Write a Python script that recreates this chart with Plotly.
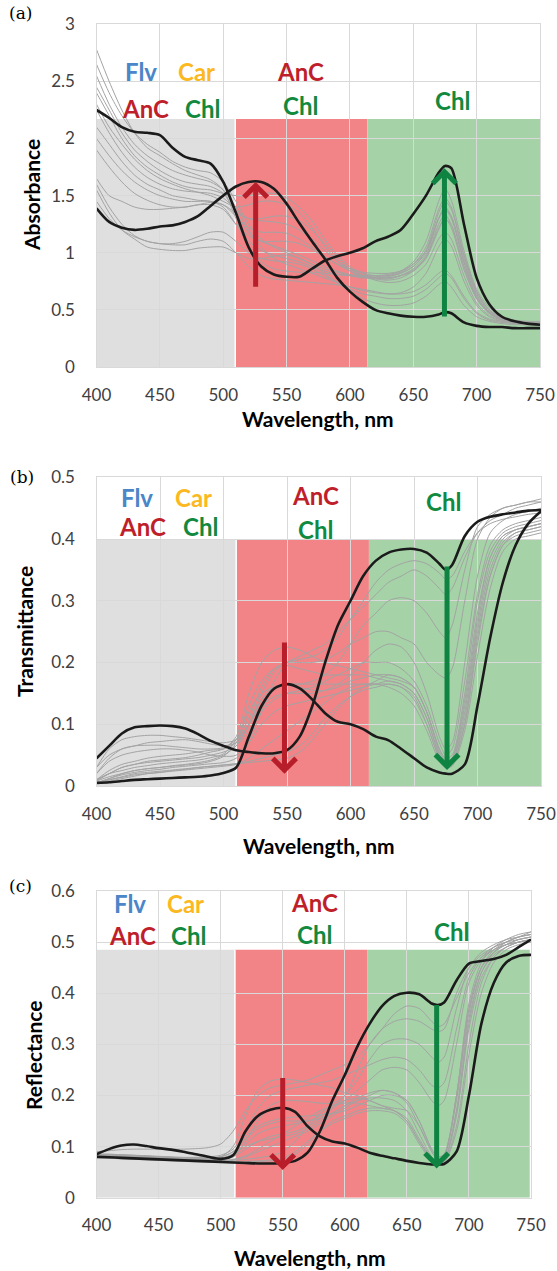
import plotly.graph_objects as go

W = [400,410,420,430,440,450,460,470,480,490,500,510,520,530,540,550,560,570,580,590,
     600,610,620,630,640,650,660,670,675,680,690,700,710,720,730,740,750]

# ---------------- Panel (a) Absorbance ----------------
abs_gray = [
 [2.78,2.5,2.25,2.05,1.92,1.85,1.78,1.72,1.68,1.64,1.55,1.3,1.05,0.92,0.86,0.84,0.83,0.83,0.82,0.81,0.8,0.79,0.78,0.78,0.8,0.84,0.95,1.2,1.3,1.22,0.85,0.6,0.47,0.42,0.4,0.39,0.39],
 [2.65,2.4,2.2,2.05,1.95,1.88,1.8,1.75,1.72,1.7,1.62,1.45,1.25,1.12,1.05,1.0,0.95,0.9,0.86,0.83,0.8,0.78,0.78,0.79,0.82,0.88,1.02,1.35,1.45,1.38,0.98,0.66,0.5,0.43,0.4,0.39,0.38],
 [2.4,2.2,2.0,1.85,1.75,1.68,1.62,1.58,1.56,1.55,1.52,1.5,1.5,1.52,1.52,1.48,1.4,1.28,1.12,0.98,0.88,0.82,0.78,0.77,0.8,0.86,0.98,1.3,1.4,1.32,0.92,0.62,0.48,0.42,0.4,0.39,0.38],
 [2.3,2.1,1.95,1.82,1.72,1.65,1.6,1.56,1.53,1.5,1.45,1.4,1.42,1.45,1.45,1.42,1.35,1.22,1.06,0.93,0.84,0.79,0.77,0.76,0.78,0.84,0.96,1.25,1.33,1.25,0.88,0.6,0.47,0.41,0.39,0.38,0.38],
 [1.6,1.4,1.25,1.15,1.1,1.08,1.07,1.07,1.1,1.12,1.1,1.0,0.88,0.8,0.77,0.76,0.75,0.74,0.73,0.72,0.7,0.68,0.66,0.64,0.64,0.66,0.72,0.82,0.85,0.8,0.62,0.48,0.42,0.4,0.39,0.38,0.38],
 [1.55,1.35,1.2,1.12,1.05,1.03,1.02,1.02,1.04,1.05,1.05,1.0,0.95,0.95,0.97,0.98,0.95,0.9,0.82,0.74,0.66,0.6,0.56,0.54,0.54,0.56,0.62,0.72,0.75,0.7,0.54,0.44,0.4,0.38,0.37,0.37,0.37],
 [1.65,1.5,1.45,1.4,1.38,1.38,1.39,1.4,1.42,1.42,1.38,1.25,1.15,1.1,1.1,1.1,1.08,1.03,0.96,0.9,0.86,0.83,0.82,0.82,0.84,0.9,1.02,1.3,1.38,1.3,0.92,0.62,0.48,0.42,0.4,0.39,0.39],
 [2.1,1.95,1.8,1.68,1.6,1.55,1.5,1.48,1.46,1.45,1.4,1.25,1.1,1.02,0.98,0.95,0.92,0.88,0.84,0.81,0.8,0.79,0.79,0.8,0.83,0.9,1.05,1.38,1.48,1.4,0.98,0.66,0.5,0.43,0.4,0.39,0.39],
 [2.25,2.05,1.88,1.75,1.66,1.6,1.56,1.54,1.53,1.52,1.48,1.38,1.3,1.28,1.27,1.25,1.2,1.12,1.02,0.93,0.86,0.82,0.8,0.8,0.82,0.88,1.0,1.3,1.38,1.32,0.95,0.64,0.49,0.43,0.4,0.39,0.39],
 [2.0,1.85,1.72,1.62,1.55,1.5,1.47,1.45,1.45,1.45,1.42,1.32,1.22,1.18,1.18,1.17,1.12,1.05,0.97,0.9,0.84,0.8,0.78,0.78,0.8,0.85,0.96,1.22,1.3,1.24,0.88,0.6,0.47,0.42,0.4,0.39,0.38],
 [1.45,1.3,1.2,1.14,1.1,1.08,1.08,1.1,1.14,1.18,1.18,1.1,1.0,0.95,0.93,0.92,0.9,0.86,0.8,0.74,0.68,0.64,0.62,0.6,0.6,0.62,0.68,0.78,0.82,0.78,0.6,0.47,0.41,0.39,0.38,0.37,0.37],
 [2.45,2.25,2.05,1.9,1.8,1.72,1.66,1.62,1.6,1.58,1.52,1.35,1.18,1.1,1.06,1.02,0.98,0.93,0.88,0.84,0.81,0.8,0.8,0.81,0.84,0.92,1.1,1.45,1.56,1.46,1.02,0.68,0.52,0.44,0.41,0.4,0.4],
 [1.9,1.75,1.62,1.52,1.46,1.42,1.4,1.4,1.42,1.44,1.42,1.35,1.3,1.3,1.32,1.32,1.28,1.2,1.08,0.96,0.86,0.8,0.76,0.74,0.75,0.8,0.9,1.12,1.18,1.12,0.8,0.56,0.45,0.41,0.39,0.38,0.38],
 [2.55,2.3,2.1,1.95,1.85,1.78,1.72,1.68,1.65,1.62,1.55,1.4,1.2,1.05,0.95,0.9,0.86,0.82,0.78,0.74,0.7,0.67,0.65,0.64,0.65,0.7,0.82,1.05,1.12,1.06,0.75,0.54,0.44,0.4,0.38,0.38,0.37],
]
abs_black = [
 [2.25,2.18,2.1,2.06,2.05,2.03,1.92,1.84,1.81,1.78,1.62,1.35,1.05,0.88,0.81,0.79,0.79,0.86,0.93,0.97,1.0,1.04,1.1,1.14,1.2,1.34,1.5,1.7,1.76,1.74,1.25,0.78,0.55,0.44,0.4,0.38,0.37],
 [1.39,1.27,1.22,1.2,1.21,1.23,1.24,1.27,1.32,1.41,1.5,1.58,1.62,1.62,1.56,1.43,1.26,1.1,0.95,0.78,0.66,0.57,0.5,0.47,0.45,0.44,0.44,0.46,0.48,0.47,0.39,0.36,0.35,0.35,0.34,0.34,0.34],
]

# ---------------- Panel (b) Transmittance ----------------
tr_gray = [
 [0.03,0.05,0.06,0.065,0.07,0.072,0.074,0.075,0.072,0.068,0.065,0.07,0.1,0.15,0.185,0.2,0.205,0.21,0.22,0.24,0.27,0.3,0.33,0.35,0.36,0.365,0.36,0.345,0.335,0.34,0.38,0.41,0.425,0.432,0.436,0.44,0.442],
 [0.02,0.04,0.05,0.055,0.058,0.06,0.06,0.058,0.055,0.05,0.048,0.05,0.075,0.12,0.17,0.2,0.21,0.22,0.23,0.25,0.27,0.29,0.31,0.33,0.34,0.35,0.34,0.32,0.31,0.32,0.37,0.41,0.43,0.44,0.45,0.455,0.46],
 [0.01,0.02,0.03,0.035,0.04,0.042,0.044,0.046,0.05,0.055,0.06,0.08,0.15,0.2,0.22,0.225,0.22,0.21,0.2,0.195,0.19,0.185,0.18,0.175,0.17,0.16,0.12,0.06,0.045,0.05,0.15,0.3,0.38,0.41,0.42,0.425,0.43],
 [0.008,0.015,0.02,0.025,0.028,0.03,0.032,0.034,0.036,0.04,0.048,0.07,0.13,0.17,0.19,0.195,0.19,0.185,0.18,0.18,0.18,0.18,0.175,0.17,0.165,0.15,0.11,0.05,0.035,0.04,0.12,0.26,0.36,0.4,0.415,0.42,0.425],
 [0.005,0.01,0.015,0.02,0.022,0.024,0.026,0.028,0.03,0.032,0.034,0.036,0.04,0.045,0.05,0.055,0.065,0.085,0.11,0.13,0.145,0.155,0.16,0.165,0.16,0.145,0.1,0.045,0.032,0.035,0.1,0.24,0.34,0.39,0.41,0.415,0.42],
 [0.005,0.008,0.012,0.016,0.02,0.022,0.025,0.027,0.03,0.032,0.034,0.036,0.038,0.04,0.042,0.045,0.055,0.075,0.1,0.125,0.145,0.16,0.17,0.18,0.175,0.16,0.12,0.06,0.04,0.045,0.14,0.28,0.37,0.405,0.415,0.42,0.425],
 [0.01,0.02,0.025,0.03,0.033,0.036,0.038,0.04,0.042,0.046,0.052,0.075,0.12,0.15,0.16,0.165,0.165,0.165,0.165,0.165,0.165,0.165,0.165,0.16,0.15,0.13,0.09,0.04,0.03,0.035,0.1,0.23,0.34,0.39,0.405,0.41,0.415],
 [0.01,0.025,0.035,0.04,0.045,0.048,0.05,0.052,0.055,0.058,0.06,0.07,0.1,0.13,0.145,0.15,0.15,0.15,0.155,0.165,0.18,0.2,0.22,0.23,0.225,0.2,0.15,0.08,0.06,0.07,0.2,0.34,0.41,0.43,0.44,0.445,0.45],
 [0.005,0.012,0.018,0.022,0.025,0.027,0.03,0.032,0.034,0.036,0.038,0.045,0.07,0.1,0.12,0.13,0.135,0.14,0.145,0.15,0.155,0.16,0.165,0.17,0.165,0.15,0.11,0.05,0.035,0.04,0.11,0.25,0.35,0.395,0.41,0.415,0.42],
 [0.02,0.045,0.06,0.065,0.066,0.066,0.064,0.062,0.06,0.06,0.062,0.075,0.11,0.16,0.19,0.2,0.2,0.2,0.205,0.215,0.23,0.24,0.25,0.25,0.24,0.23,0.2,0.18,0.175,0.19,0.3,0.4,0.435,0.45,0.455,0.46,0.465],
 [0.008,0.02,0.03,0.035,0.038,0.04,0.042,0.044,0.046,0.05,0.055,0.065,0.09,0.12,0.14,0.15,0.155,0.16,0.17,0.18,0.19,0.2,0.2,0.2,0.19,0.17,0.13,0.07,0.05,0.06,0.17,0.31,0.39,0.415,0.425,0.43,0.435],
 [0.005,0.01,0.014,0.018,0.02,0.022,0.024,0.026,0.028,0.03,0.032,0.035,0.045,0.06,0.075,0.09,0.105,0.12,0.135,0.15,0.16,0.165,0.165,0.165,0.16,0.14,0.1,0.045,0.03,0.032,0.09,0.21,0.32,0.38,0.4,0.405,0.41],
 [0.03,0.06,0.075,0.08,0.082,0.082,0.08,0.078,0.075,0.072,0.07,0.075,0.1,0.14,0.16,0.165,0.165,0.17,0.18,0.2,0.23,0.26,0.28,0.3,0.305,0.3,0.28,0.25,0.24,0.26,0.35,0.42,0.44,0.45,0.455,0.46,0.46],
 [0.005,0.012,0.02,0.025,0.028,0.03,0.033,0.035,0.038,0.042,0.05,0.065,0.1,0.14,0.16,0.165,0.16,0.155,0.155,0.16,0.17,0.175,0.18,0.18,0.175,0.16,0.12,0.055,0.04,0.045,0.13,0.27,0.37,0.405,0.415,0.42,0.425],
]
tr_black = [
 [0.045,0.065,0.085,0.095,0.097,0.098,0.097,0.093,0.084,0.073,0.065,0.058,0.055,0.053,0.053,0.058,0.08,0.13,0.2,0.26,0.3,0.34,0.365,0.378,0.383,0.384,0.378,0.36,0.35,0.358,0.405,0.428,0.436,0.44,0.443,0.446,0.447],
 [0.005,0.006,0.008,0.01,0.011,0.012,0.013,0.014,0.015,0.017,0.021,0.03,0.08,0.13,0.158,0.165,0.158,0.14,0.118,0.104,0.1,0.092,0.08,0.074,0.06,0.045,0.03,0.022,0.02,0.02,0.035,0.13,0.24,0.33,0.39,0.425,0.445],
]

# ---------------- Panel (c) Reflectance ----------------
rf_gray = [
 [0.09,0.092,0.094,0.095,0.095,0.095,0.095,0.095,0.096,0.098,0.105,0.13,0.17,0.2,0.215,0.22,0.225,0.23,0.24,0.25,0.26,0.275,0.3,0.33,0.36,0.375,0.37,0.345,0.335,0.34,0.39,0.44,0.47,0.485,0.495,0.5,0.505],
 [0.085,0.085,0.084,0.083,0.082,0.08,0.079,0.078,0.078,0.078,0.08,0.1,0.16,0.21,0.228,0.232,0.23,0.225,0.22,0.215,0.205,0.2,0.19,0.18,0.175,0.17,0.14,0.09,0.075,0.08,0.2,0.38,0.46,0.49,0.505,0.515,0.52],
 [0.082,0.082,0.081,0.08,0.079,0.078,0.077,0.076,0.075,0.074,0.075,0.08,0.11,0.15,0.18,0.19,0.19,0.188,0.185,0.185,0.2,0.25,0.3,0.33,0.345,0.35,0.345,0.33,0.325,0.33,0.4,0.45,0.475,0.49,0.5,0.505,0.51],
 [0.08,0.08,0.079,0.078,0.077,0.076,0.075,0.074,0.073,0.072,0.072,0.073,0.075,0.078,0.082,0.09,0.11,0.14,0.165,0.18,0.19,0.195,0.19,0.18,0.17,0.15,0.11,0.075,0.068,0.072,0.16,0.34,0.44,0.48,0.5,0.51,0.515],
 [0.078,0.078,0.077,0.076,0.075,0.074,0.073,0.072,0.071,0.07,0.07,0.07,0.07,0.071,0.072,0.075,0.085,0.105,0.13,0.15,0.16,0.17,0.175,0.175,0.17,0.15,0.11,0.075,0.068,0.07,0.14,0.3,0.42,0.47,0.49,0.5,0.505],
 [0.082,0.082,0.081,0.08,0.079,0.078,0.077,0.076,0.076,0.077,0.08,0.09,0.12,0.14,0.15,0.155,0.158,0.16,0.162,0.165,0.17,0.18,0.19,0.2,0.2,0.19,0.15,0.095,0.08,0.085,0.2,0.37,0.45,0.48,0.495,0.505,0.51],
 [0.08,0.08,0.079,0.078,0.077,0.076,0.075,0.074,0.074,0.074,0.076,0.085,0.1,0.11,0.115,0.12,0.125,0.135,0.15,0.165,0.18,0.19,0.195,0.195,0.19,0.17,0.125,0.08,0.07,0.073,0.17,0.35,0.44,0.475,0.49,0.5,0.505],
 [0.085,0.085,0.084,0.083,0.082,0.081,0.08,0.079,0.079,0.08,0.083,0.095,0.13,0.175,0.2,0.21,0.215,0.22,0.225,0.23,0.24,0.25,0.26,0.27,0.275,0.27,0.25,0.22,0.215,0.225,0.33,0.43,0.47,0.49,0.5,0.51,0.515],
 [0.079,0.079,0.078,0.077,0.076,0.075,0.074,0.073,0.072,0.072,0.072,0.074,0.08,0.09,0.1,0.11,0.12,0.13,0.145,0.16,0.175,0.19,0.2,0.21,0.205,0.19,0.15,0.095,0.08,0.085,0.19,0.36,0.45,0.485,0.5,0.51,0.52],
 [0.083,0.083,0.082,0.081,0.08,0.079,0.078,0.077,0.077,0.077,0.078,0.085,0.105,0.125,0.135,0.14,0.145,0.15,0.16,0.175,0.2,0.23,0.27,0.3,0.31,0.31,0.3,0.275,0.265,0.275,0.37,0.45,0.48,0.495,0.505,0.51,0.515],
 [0.077,0.077,0.076,0.075,0.074,0.073,0.072,0.071,0.07,0.07,0.07,0.07,0.071,0.072,0.074,0.078,0.09,0.11,0.13,0.145,0.155,0.165,0.17,0.17,0.165,0.145,0.105,0.072,0.066,0.068,0.13,0.28,0.4,0.46,0.485,0.495,0.5],
 [0.084,0.084,0.083,0.082,0.081,0.08,0.079,0.078,0.078,0.078,0.08,0.09,0.115,0.135,0.145,0.15,0.15,0.15,0.155,0.165,0.18,0.195,0.205,0.21,0.205,0.185,0.14,0.09,0.077,0.082,0.2,0.37,0.45,0.48,0.495,0.5,0.505],
 [0.081,0.081,0.08,0.079,0.078,0.077,0.076,0.075,0.075,0.075,0.076,0.08,0.095,0.11,0.12,0.125,0.13,0.14,0.155,0.175,0.19,0.21,0.23,0.25,0.255,0.25,0.225,0.19,0.18,0.19,0.3,0.42,0.465,0.485,0.495,0.505,0.51],
 [0.08,0.08,0.079,0.078,0.077,0.076,0.075,0.074,0.073,0.073,0.073,0.075,0.082,0.095,0.11,0.125,0.14,0.155,0.17,0.18,0.185,0.185,0.18,0.175,0.17,0.155,0.115,0.078,0.07,0.074,0.17,0.33,0.43,0.47,0.49,0.5,0.505],
]
rf_black = [
 [0.085,0.095,0.102,0.104,0.101,0.097,0.094,0.09,0.085,0.08,0.076,0.083,0.13,0.16,0.172,0.176,0.168,0.14,0.12,0.11,0.106,0.098,0.088,0.082,0.077,0.072,0.068,0.065,0.065,0.066,0.09,0.2,0.34,0.42,0.46,0.473,0.475],
 [0.08,0.079,0.078,0.077,0.076,0.075,0.074,0.073,0.072,0.071,0.07,0.069,0.068,0.067,0.067,0.068,0.072,0.088,0.13,0.19,0.24,0.295,0.34,0.375,0.395,0.401,0.398,0.38,0.377,0.382,0.425,0.458,0.463,0.467,0.475,0.49,0.505],
]

Y_TITLES = ["Absorbance", "Transmittance", "Reflectance"]
X_TITLE = "Wavelength, nm"
PANEL_TAGS = ["(a)", "(b)", "(c)"]
Y_RANGES = [[0, 3], [0, 0.5], [0, 0.6]]
Y_DTICKS = [0.5, 0.1, 0.1]
SHADE_TOPS = [2.17, 0.40, 0.485]
BANDS = [[400, 509.5, 613.7, 750], [400, 510, 614.5, 750], [400, 511.5, 618, 749]]

# pixel layout (image is 557 x 1271)
FW, FH = 557, 1271
def px(x): return x / FW
def py(y): return 1 - y / FH

plot_px = [  # left, right, top, bottom
    (96.5, 540, 24.3, 367),
    (96.5, 541, 477.3, 786),
    (96.5, 531, 891, 1197.7),
]

GRID = "#d9d9d9"
BLACK = "#1b1b1b"
GRAY = "#a3a3a3"
C_GRAYBAND = "#dfdfdf"
C_RED = "#f28487"
C_GREEN = "#a5d3a7"
C_FLV = "#4a86c8"
C_CAR = "#fbb820"
C_ANC = "#bf1f2b"
C_CHL = "#11893f"
ARROW_RED = "#b81e2a"
ARROW_GREEN = "#0f8442"
FONT = "Lato"

fig = go.Figure()
panels = [(abs_gray, abs_black), (tr_gray, tr_black), (rf_gray, rf_black)]
for i, (grays, blacks) in enumerate(panels):
    xa = "x" if i == 0 else f"x{i+1}"
    ya = "y" if i == 0 else f"y{i+1}"
    for g in grays:
        fig.add_trace(go.Scatter(x=W, y=g, mode="lines", xaxis=xa, yaxis=ya,
                                 line=dict(color=GRAY, width=1, shape="spline", smoothing=0.8),
                                 showlegend=False, hoverinfo="skip"))
    for b in blacks:
        fig.add_trace(go.Scatter(x=W, y=b, mode="lines", xaxis=xa, yaxis=ya,
                                 line=dict(color=BLACK, width=2.6, shape="spline", smoothing=0.8),
                                 showlegend=False, hoverinfo="skip"))

layout = dict(width=FW, height=FH, margin=dict(l=0, r=0, t=0, b=0, autoexpand=False),
              paper_bgcolor="white", plot_bgcolor="white", showlegend=False,
              font=dict(family=FONT, color="#404040"))
shapes = []
annotations = []
for i in range(3):
    l, r, t, b = plot_px[i]
    xk = "xaxis" if i == 0 else f"xaxis{i+1}"
    yk = "yaxis" if i == 0 else f"yaxis{i+1}"
    xa = "x" if i == 0 else f"x{i+1}"
    ya = "y" if i == 0 else f"y{i+1}"
    layout[xk] = dict(domain=[px(l), px(r)], range=[400, 750], tick0=400, dtick=50,
                      anchor=ya, showgrid=True, gridcolor=GRID, gridwidth=1.4,
                      showline=True, linecolor=GRID, linewidth=1.4, mirror=True,
                      zeroline=False, ticks="outside", ticklen=12, automargin=False,
                      tickcolor="rgba(0,0,0,0)", tickfont=dict(size=17, color="#404040", family=FONT))
    layout[yk] = dict(domain=[py(b), py(t)], range=Y_RANGES[i], dtick=Y_DTICKS[i],
                      anchor=xa, showgrid=True, gridcolor=GRID, gridwidth=1.4,
                      showline=True, linecolor=GRID, linewidth=1.4, mirror=True,
                      zeroline=False, ticks="outside", ticklen=17, automargin=False,
                      tickcolor="rgba(0,0,0,0)", tickfont=dict(size=17, color="#404040", family=FONT))
    bd = BANDS[i]
    top = SHADE_TOPS[i]
    for (x0, x1, col) in [(bd[0], bd[1], C_GRAYBAND), (bd[1], bd[2], C_RED), (bd[2], bd[3], C_GREEN)]:
        shapes.append(dict(type="rect", xref=xa, yref=ya, x0=x0, x1=x1, y0=0, y1=top,
                           fillcolor=col, line=dict(width=0), layer="below"))
    # thin white gap between the grey and red bands
    shapes.append(dict(type="line", xref=xa, yref=ya, x0=bd[1], x1=bd[1], y0=0, y1=top,
                       line=dict(color="white", width=1.5), layer="below"))

layout["shapes"] = shapes

# axis titles and panel tags (pixel positions)
ytitle_pos = [(31, 195), (24, 632), (33, 1055)]
xtitle_pos = [(318, 419), (319, 845), (310, 1257)]
tag_pos = [(20, 13), (22, 477), (20, 886)]
for i in range(3):
    annotations.append(dict(text=Y_TITLES[i], x=px(ytitle_pos[i][0]), y=py(ytitle_pos[i][1]),
                            xref="paper", yref="paper", showarrow=False, textangle=-90,
                            font=dict(family=FONT, size=21, color="#000000", weight="bold"),
                            xanchor="center", yanchor="middle"))
    annotations.append(dict(text=X_TITLE, x=px(xtitle_pos[i][0]), y=py(xtitle_pos[i][1]),
                            xref="paper", yref="paper", showarrow=False,
                            font=dict(family=FONT, size=21, color="#000000", weight="bold"),
                            xanchor="center", yanchor="middle"))
    annotations.append(dict(text=PANEL_TAGS[i], x=px(tag_pos[i][0]), y=py(tag_pos[i][1]),
                            xref="paper", yref="paper", showarrow=False,
                            font=dict(family="DejaVu Serif", size=17, color="#000000"),
                            xanchor="center", yanchor="middle"))

# pigment labels (data coords)
LABELS = [
    [("Flv", 435.5, 2.59, C_FLV), ("Car", 479, 2.59, C_CAR), ("AnC", 439, 2.26, C_ANC),
     ("Chl", 484, 2.26, C_CHL), ("AnC", 561, 2.59, C_ANC), ("Chl", 561, 2.29, C_CHL),
     ("Chl", 681, 2.33, C_CHL)],
    [("Flv", 432, 0.468, C_FLV), ("Car", 476, 0.468, C_CAR), ("AnC", 436, 0.421, C_ANC),
     ("Chl", 482, 0.421, C_CHL), ("AnC", 572.5, 0.47, C_ANC), ("Chl", 572.5, 0.415, C_CHL),
     ("Chl", 673, 0.46, C_CHL)],
    [("Flv", 427, 0.576, C_FLV), ("Car", 471.5, 0.576, C_CAR), ("AnC", 429, 0.513, C_ANC),
     ("Chl", 474, 0.513, C_CHL), ("AnC", 576, 0.577, C_ANC), ("Chl", 576, 0.514, C_CHL),
     ("Chl", 686, 0.52, C_CHL)],
]
for i in range(3):
    xa = "x" if i == 0 else f"x{i+1}"
    ya = "y" if i == 0 else f"y{i+1}"
    for (txt, x, y, col) in LABELS[i]:
        annotations.append(dict(text=txt, x=x, y=y, xref=xa, yref=ya, showarrow=False,
                                font=dict(family=FONT, size=24, color=col, weight="bold"),
                                xanchor="center", yanchor="middle"))

# arrows: (tail_x, tail_y, tip_x, tip_y, colour)
ARROWS = [
    [(525.6, 0.69, 525.6, 1.62, ARROW_RED), (674.6, 0.43, 674.6, 1.74, ARROW_GREEN)],
    [(548, 0.235, 548, 0.02, ARROW_RED), (676, 0.358, 676, 0.026, ARROW_GREEN)],
    [(550, 0.237, 550, 0.054, ARROW_RED), (674, 0.38, 674, 0.057, ARROW_GREEN)],
]
for i in range(3):
    xa = "x" if i == 0 else f"x{i+1}"
    ya = "y" if i == 0 else f"y{i+1}"
    for (tx, ty, hx, hy, col) in ARROWS[i]:
        annotations.append(dict(text="", x=hx, y=hy, xref=xa, yref=ya,
                                ax=tx, ay=ty, axref=xa, ayref=ya, showarrow=True,
                                arrowhead=4, arrowsize=0.9, arrowwidth=5, arrowcolor=col,
                                standoff=0, startstandoff=0))

layout["annotations"] = annotations
fig.update_layout(**layout)
fig.write_html("out.html")
